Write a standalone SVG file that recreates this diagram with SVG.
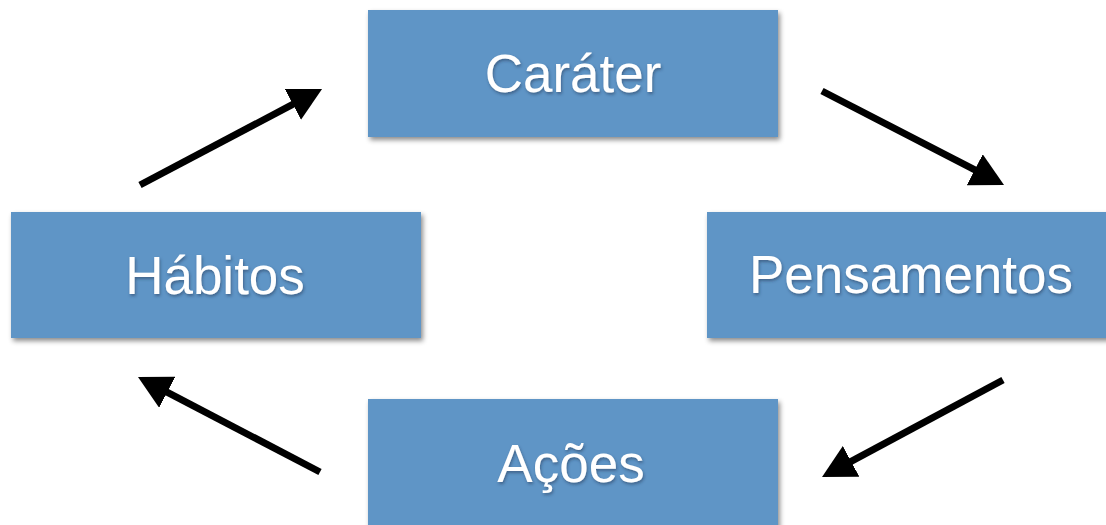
<svg xmlns="http://www.w3.org/2000/svg" width="1106" height="525" viewBox="0 0 1106 525">
<defs>
<filter id="boxShadow" x="-10%" y="-10%" width="120%" height="130%">
<feDropShadow dx="2" dy="3" stdDeviation="2.5" flood-color="#000" flood-opacity="0.45"/>
</filter>
<filter id="txtShadow" x="-10%" y="-20%" width="120%" height="150%">
<feDropShadow dx="1" dy="2" stdDeviation="1.5" flood-color="#1a3350" flood-opacity="0.5"/>
</filter>
<marker id="head" markerUnits="userSpaceOnUse" markerWidth="33" markerHeight="35" viewBox="0 0 33 35" refX="10" refY="17.5" orient="auto">
<path d="M0,0 L33,17.5 L0,35 z" fill="#000"/>
</marker>
</defs>
<style>
.box{fill:#5F95C6;filter:url(#boxShadow);}
.lbl{font-family:"Liberation Sans",Arial,sans-serif;font-size:53px;fill:#fff;text-anchor:middle;filter:url(#txtShadow);}
.arr{stroke:#000;stroke-width:7;fill:none;marker-end:url(#head);}
</style>
<rect width="1106" height="525" fill="#fff"/>
<g id="connectors">
<line class="arr" x1="140" y1="185" x2="301.7" y2="99.7"/>
<line class="arr" x1="822" y1="91" x2="983.6" y2="174.4"/>
<line class="arr" x1="1003" y1="380" x2="842.3" y2="466.1"/>
<line class="arr" x1="320" y1="472" x2="158.4" y2="387.6"/>
</g>
<g id="carater">
<rect class="box" x="368" y="10" width="410" height="127"/>
<text class="lbl" x="573" y="92">Caráter</text>
</g>
<g id="habitos">
<rect class="box" x="11" y="212" width="410" height="126"/>
<text class="lbl" x="215" y="294">Hábitos</text>
</g>
<g id="pensamentos">
<rect class="box" x="707" y="212" width="410" height="126"/>
<text class="lbl" x="911" y="293">Pensamentos</text>
</g>
<g id="acoes">
<rect class="box" x="368" y="399" width="410" height="140"/>
<text class="lbl" x="571" y="482">Ações</text>
</g>
</svg>
